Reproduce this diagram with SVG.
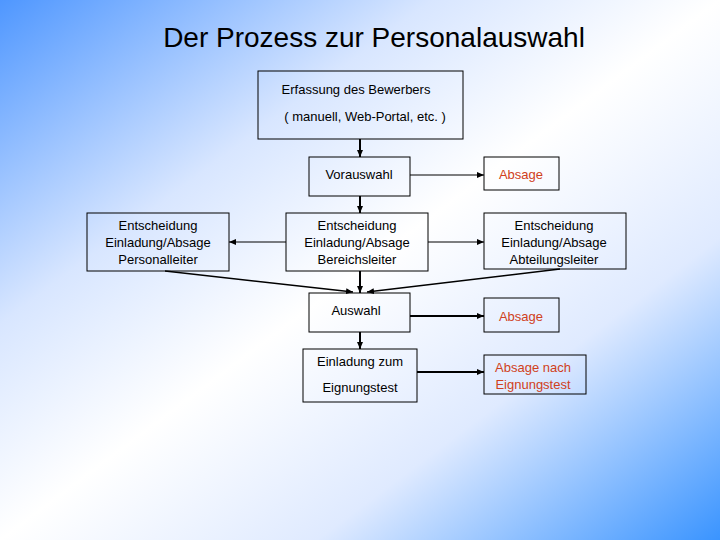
<svg xmlns="http://www.w3.org/2000/svg" width="720" height="540" viewBox="0 0 720 540">
<defs>
<linearGradient id="bg" x1="0" y1="0" x2="1" y2="1">
<stop offset="0" stop-color="#4f97ff"/>
<stop offset="0.3" stop-color="#d8e6ff"/>
<stop offset="0.5" stop-color="#ffffff"/>
<stop offset="0.72" stop-color="#dfeaff"/>
<stop offset="1" stop-color="#3a94ff"/>
</linearGradient>
<marker id="ah" markerWidth="8" markerHeight="8" refX="7" refY="4" orient="auto" markerUnits="userSpaceOnUse">
<path d="M0,1 L7,4 L0,7 Z" fill="#000"/>
</marker>
<style>
.b{fill:none;stroke:#000;stroke-width:1}
.t{font-family:"Liberation Sans",Arial,sans-serif;font-size:13px;fill:#000;text-anchor:middle}
.r{fill:#d04020}
.c{stroke:#000;fill:none;marker-end:url(#ah)}
</style>
</defs>
<rect width="720" height="540" fill="url(#bg)"/>
<text x="374" y="47" style="font-family:'Liberation Sans',Arial,sans-serif;font-size:28px;text-anchor:middle">Der Prozess zur Personalauswahl</text>
<g id="connectors">
<line class="c" x1="360" y1="139" x2="360" y2="157" stroke-width="2"/>
<line class="c" x1="410" y1="175" x2="484" y2="175"/>
<line class="c" x1="360" y1="196" x2="360" y2="213" stroke-width="2"/>
<line class="c" x1="286" y1="242" x2="229" y2="242"/>
<line class="c" x1="428" y1="242" x2="484" y2="242"/>
<line class="c" x1="360" y1="271" x2="360" y2="293" stroke-width="2"/>
<line class="c" x1="165" y1="271" x2="353" y2="292" stroke-width="1.5"/>
<line class="c" x1="560" y1="269" x2="367" y2="292" stroke-width="1.5"/>
<line class="c" x1="410" y1="316" x2="484" y2="316" stroke-width="2"/>
<line class="c" x1="360" y1="332" x2="360" y2="349" stroke-width="2"/>
<line class="c" x1="417" y1="372" x2="484" y2="372" stroke-width="2"/>
</g>
<g id="erfassung"><rect class="b" x="258" y="71" width="205" height="68"/>
<text class="t" x="356" y="94">Erfassung des Bewerbers</text>
<text class="t" x="365" y="121">( manuell, Web-Portal, etc. )</text></g>
<g id="vorauswahl"><rect class="b" x="309" y="157" width="101" height="39"/>
<text class="t" x="359" y="179">Vorauswahl</text></g>
<g id="absage1"><rect class="b" x="484" y="157" width="75" height="33"/>
<text class="t r" x="521" y="179">Absage</text></g>
<g id="personalleiter"><rect class="b" x="87" y="213" width="142" height="58"/>
<text class="t" x="158" y="230">Entscheidung</text><text class="t" x="158" y="247">Einladung/Absage</text><text class="t" x="158" y="264">Personalleiter</text></g>
<g id="bereichsleiter"><rect class="b" x="286" y="213" width="142" height="58"/>
<text class="t" x="357" y="230">Entscheidung</text><text class="t" x="357" y="247">Einladung/Absage</text><text class="t" x="357" y="264">Bereichsleiter</text></g>
<g id="abteilungsleiter"><rect class="b" x="484" y="213" width="142" height="56"/>
<text class="t" x="554" y="230">Entscheidung</text><text class="t" x="554" y="247">Einladung/Absage</text><text class="t" x="554" y="264">Abteilungsleiter</text></g>
<g id="auswahl"><rect class="b" x="309" y="293" width="101" height="39"/>
<text class="t" x="356" y="315">Auswahl</text></g>
<g id="absage2"><rect class="b" x="484" y="298" width="75" height="34"/>
<text class="t r" x="521" y="321">Absage</text></g>
<g id="einladung"><rect class="b" x="303" y="349" width="114" height="53"/>
<text class="t" x="360" y="366">Einladung zum</text><text class="t" x="360" y="392">Eignungstest</text></g>
<g id="absage3"><rect class="b" x="484" y="355" width="102" height="39"/>
<text class="t r" x="533" y="372">Absage nach</text><text class="t r" x="533" y="389">Eignungstest</text></g>
</svg>
